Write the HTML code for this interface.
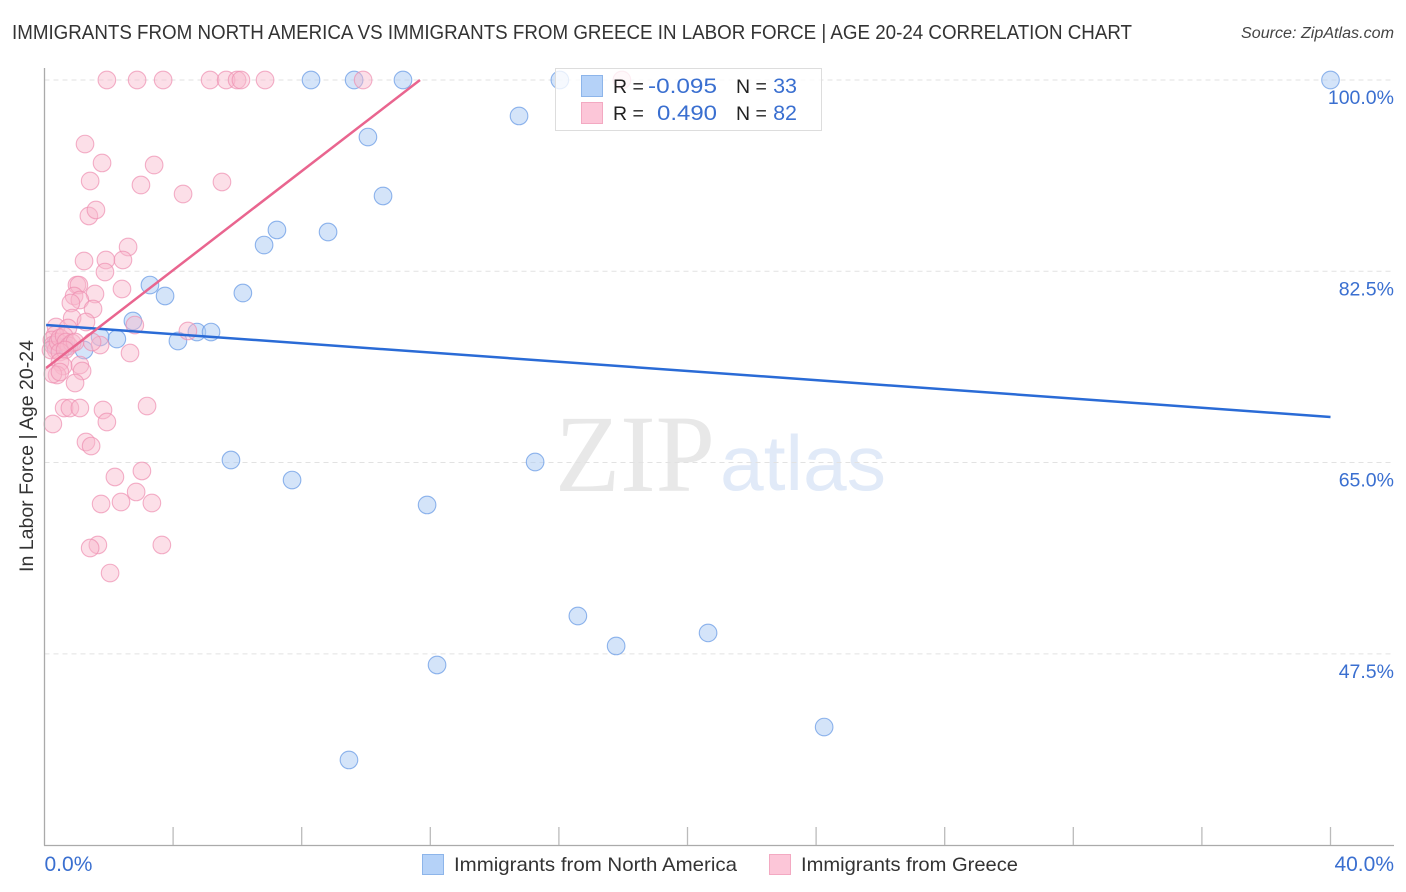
<!DOCTYPE html>
<html lang="en">
<head>
<meta charset="utf-8">
<title>Correlation Chart</title>
<style>
html,body{margin:0;padding:0;background:#fff;width:1406px;height:892px;overflow:hidden}
svg{display:block}
text{font-family:"Liberation Sans",sans-serif}
</style>
</head>
<body>
<svg id="chart" xmlns="http://www.w3.org/2000/svg" width="1406" height="892" viewBox="0 0 1406 892">
  <text x="12" y="39" font-size="20" fill="#333" textLength="1120" lengthAdjust="spacingAndGlyphs">IMMIGRANTS FROM NORTH AMERICA VS IMMIGRANTS FROM GREECE IN LABOR FORCE | AGE 20-24 CORRELATION CHART</text>
  <text x="1394" y="38" font-size="15.5" font-style="italic" fill="#444" text-anchor="end" textLength="153" lengthAdjust="spacingAndGlyphs">Source: ZipAtlas.com</text>
  <g>
    <text x="555" y="491" font-size="110" fill="#e8e8e8" style="font-family:'Liberation Serif',serif" textLength="160" lengthAdjust="spacingAndGlyphs">ZIP</text>
    <text x="720" y="490" font-size="78" fill="#e1eaf8" textLength="166" lengthAdjust="spacingAndGlyphs">atlas</text>
  </g>
  <g id="grid"></g>
  <g id="blue-points"></g>
  <g id="pink-points"></g>
  <g id="trends"></g>
  <g id="axes"></g>
  <text transform="translate(33,456) rotate(-90)" font-size="19.5" fill="#333" text-anchor="middle" textLength="232" lengthAdjust="spacingAndGlyphs">In Labor Force | Age 20-24</text>

  <g>
    <rect x="555.5" y="68.5" width="266" height="62" fill="#fff" fill-opacity="0.78" stroke="#ddd" stroke-width="1"/>
    <rect x="581.5" y="75.5" width="21" height="21" fill="#b5d2f8" stroke="#8db5ea"/>
    <rect x="581.5" y="102.5" width="21" height="21" fill="#fcc6d8" stroke="#f3a9c2"/>
    <text x="613" y="93" font-size="19.5" fill="#222">R =</text>
    <text x="717" y="93" font-size="21.5" fill="#3a6fd0" text-anchor="end" textLength="69" lengthAdjust="spacingAndGlyphs">-0.095</text>
    <text x="736" y="93" font-size="19.5" fill="#222">N =</text>
    <text x="797" y="93" font-size="21.5" fill="#3a6fd0" text-anchor="end">33</text>
    <text x="613" y="120" font-size="19.5" fill="#222">R =</text>
    <text x="717" y="120" font-size="21.5" fill="#3a6fd0" text-anchor="end" textLength="60" lengthAdjust="spacingAndGlyphs">0.490</text>
    <text x="736" y="120" font-size="19.5" fill="#222">N =</text>
    <text x="797" y="120" font-size="21.5" fill="#3a6fd0" text-anchor="end">82</text>
  </g>

  <g>
    <rect x="422.5" y="854.5" width="21" height="20" fill="#b5d2f8" stroke="#8db5ea"/>
    <text x="454" y="871" font-size="19.5" fill="#333" textLength="283" lengthAdjust="spacingAndGlyphs">Immigrants from North America</text>
    <rect x="769.5" y="854.5" width="21" height="20" fill="#fcc6d8" stroke="#f3a9c2"/>
    <text x="801" y="871" font-size="19.5" fill="#333" textLength="217" lengthAdjust="spacingAndGlyphs">Immigrants from Greece</text>
  </g>
</svg>
<script>
const blueX = [8.29,9.63,11.15,16.03,40,14.76,10.06,10.53,7.23,6.83,8.82,3.28,3.75,6.17,2.75,4.15,4.74,5.18,2.25,1.73,1.23,0.64,0.33,5.80,7.70,15.26,11.90,16.59,17.78,20.64,12.21,9.47,24.25];
const blueY = [100,100,100,100,100,96.71,94.78,89.39,86.28,84.90,86.09,81.24,80.24,80.51,77.95,76.12,76.94,76.94,76.30,76.49,75.30,75.57,75.75,65.23,63.40,65.05,61.12,50.96,48.22,49.41,46.48,37.79,40.80];
const pinkX = [1.94,2.88,3.69,5.15,5.65,5.99,6.11,6.86,9.91,17.96,1.26,1.79,3.41,1.42,3.00,5.52,4.31,1.38,1.60,2.60,1.23,1.91,2.44,1.88,1.01,1.07,2.41,1.57,0.92,1.10,0.82,1.51,0.86,1.29,2.81,4.46,0.36,0.73,2.66,1.73,1.48,1.10,1.17,0.95,0.61,0.79,1.10,1.82,3.19,1.94,0.26,1.29,1.45,2.19,3.03,2.85,1.76,2.38,3.34,3.65,1.66,1.42,2.04,0.33,0.23,0.26,0.36,0.20,0.42,0.48,0.61,0.67,0.76,0.86,0.95,0.48,0.64,0.48,0.58,0.39,0.26,0.48];
const pinkY = [100,100,100,100,100,100,100,100,100,100,94.14,92.41,92.22,90.76,90.39,90.67,89.57,87.56,88.11,84.72,83.44,83.53,83.53,82.43,81.24,81.24,80.88,80.42,80.24,79.87,79.60,79.05,78.22,77.86,77.58,77.04,77.40,77.31,75.02,75.75,76.03,73.92,73.38,72.28,69.99,69.99,69.99,69.81,70.17,68.71,68.53,66.88,66.51,63.68,64.23,62.31,61.21,61.39,61.30,57.46,57.46,57.18,54.89,76.67,76.21,75.75,75.30,75.30,76.03,76.40,76.58,76.03,75.66,75.94,76.03,75.11,75.30,74.20,73.83,73.01,73.10,73.28];
const blueTrendX = [0.05,40];
const blueTrendY = [77.58,69.17];
const pinkTrendX = [0.05,11.68];
const pinkTrendY = [73.65,100];
const gridValues = [100,82.5,65,47.5];
const yTickLabels = ["100.0%","82.5%","65.0%","47.5%"];
const xTickValues = [4,8,12,16,20,24,28,32,36,40];
const xEndValues = [0,40];
const xEndLabels = ["0.0%","40.0%"];

const NS = 'http://www.w3.org/2000/svg';
const sx = v => 44.5 + v * 32.15;
const sy = v => 80 + (100 - v) * 10.93;
const make = (tag, parent) => {
  const el = document.createElementNS(NS, tag);
  parent.appendChild(el);
  return el;
};
const put = (el, k, v) => el.setAttribute(k, v);

const grid = document.getElementById('grid');
gridValues.forEach(v => {
  const l = make('line', grid);
  
  
  put(l, 'x1', 44.5); put(l, 'x2', 1394);
  put(l, 'y1', sy(v)); put(l, 'y2', sy(v));
  put(l, 'stroke', '#e2e2e2'); put(l, 'stroke-width', 1); put(l, 'stroke-dasharray', '5 4');
});

const bluePts = document.getElementById('blue-points');
blueX.forEach((x, i) => {
  const c = make('circle', bluePts);
  
  
  put(c, 'cx', sx(x)); put(c, 'cy', sy(blueY[i])); put(c, 'r', 8.8);
  put(c, 'fill', '#a9c9f4'); put(c, 'fill-opacity', 0.5);
  put(c, 'stroke', '#6b9ce6'); put(c, 'stroke-opacity', 0.75); put(c, 'stroke-width', 1.1);
});

const pinkPts = document.getElementById('pink-points');
pinkX.forEach((x, i) => {
  const c = make('circle', pinkPts);
  
  
  put(c, 'cx', sx(x)); put(c, 'cy', sy(pinkY[i])); put(c, 'r', 8.8);
  put(c, 'fill', '#f9b7cd'); put(c, 'fill-opacity', 0.45);
  put(c, 'stroke', '#ee8fb0'); put(c, 'stroke-opacity', 0.7); put(c, 'stroke-width', 1.1);
});

const trends = document.getElementById('trends');
const blueLine = make('line', trends);


put(blueLine, 'x1', sx(blueTrendX[0])); put(blueLine, 'y1', sy(blueTrendY[0]));
put(blueLine, 'x2', sx(blueTrendX[1])); put(blueLine, 'y2', sy(blueTrendY[1]));
put(blueLine, 'stroke', '#2a6bd6'); put(blueLine, 'stroke-width', 2.5);
const pinkLine = make('line', trends);


put(pinkLine, 'x1', sx(pinkTrendX[0])); put(pinkLine, 'y1', sy(pinkTrendY[0]));
put(pinkLine, 'x2', sx(pinkTrendX[1])); put(pinkLine, 'y2', sy(pinkTrendY[1]));
put(pinkLine, 'stroke', '#e9658f'); put(pinkLine, 'stroke-width', 2.5);

const axes = document.getElementById('axes');
const yAxis = make('line', axes);


put(yAxis, 'x1', 44.5); put(yAxis, 'x2', 44.5); put(yAxis, 'y1', 68); put(yAxis, 'y2', 845.5);
put(yAxis, 'stroke', '#aaa'); put(yAxis, 'stroke-width', 1.3);
const xAxis = make('line', axes);


put(xAxis, 'x1', 44); put(xAxis, 'x2', 1394); put(xAxis, 'y1', 845.5); put(xAxis, 'y2', 845.5);
put(xAxis, 'stroke', '#aaa'); put(xAxis, 'stroke-width', 1.3);
xTickValues.forEach(v => {
  const t = make('line', axes);
  
  
  put(t, 'x1', sx(v)); put(t, 'x2', sx(v)); put(t, 'y1', 827); put(t, 'y2', 845);
  put(t, 'stroke', '#bbb'); put(t, 'stroke-width', 1.3);
});
yTickLabels.forEach((s, i) => {
  const t = make('text', axes);
  
  
  put(t, 'x', 1394); put(t, 'y', sy(gridValues[i]) + 24);
  put(t, 'font-size', 19.5); put(t, 'fill', '#3a6fd0'); put(t, 'text-anchor', 'end');
  t.textContent = s;
});
xEndLabels.forEach((s, i) => {
  const t = make('text', axes);
  
  
  put(t, 'x', xEndValues[i] === 0 ? sx(xEndValues[i]) : 1394); put(t, 'y', 871);
  put(t, 'font-size', 21); put(t, 'fill', '#3a6fd0');
  put(t, 'text-anchor', xEndValues[i] === 0 ? 'start' : 'end');
  t.textContent = s;
});
</script>
</body>
</html>
